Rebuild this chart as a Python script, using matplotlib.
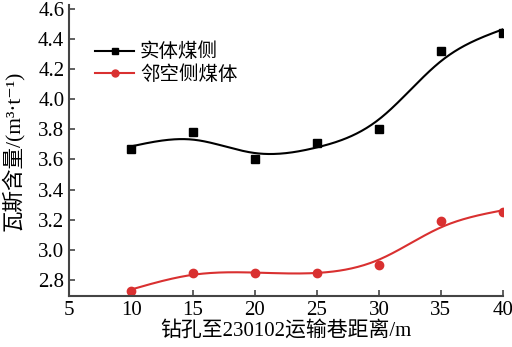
import numpy as np
import matplotlib
matplotlib.use("Agg")
import matplotlib.pyplot as plt

x = [10, 15, 20, 25, 30, 35, 40]
solid = [3.67, 3.78, 3.60, 3.71, 3.80, 4.32, 4.44]
adjacent = [2.73, 2.85, 2.85, 2.85, 2.90, 3.19, 3.25]
labels = ["实体煤侧", "邻空侧煤体"]
xticks = [5, 10, 15, 20, 25, 30, 35, 40]
yticks = [2.8, 3.0, 3.2, 3.4, 3.6, 3.8, 4.0, 4.2, 4.4, 4.6]

fam = ["Liberation Serif", "Noto Sans CJK SC", "DejaVu Sans"]
plt.rcParams["font.family"] = fam


def smooth(xs, ys, lam, n=301):
    xs = np.asarray(xs, float)
    ys = np.asarray(ys, float)
    g = np.linspace(xs.min(), xs.max(), n)
    h = g[1] - g[0]
    idx = np.round((xs - g[0]) / h).astype(int)
    W = np.zeros((n, n))
    b = np.zeros(n)
    for i, yv in zip(idx, ys):
        W[i, i] += 1.0
        b[i] += yv
    D = np.diff(np.eye(n), 2, axis=0) / h**2
    A = W + lam * h * D.T @ D
    return g, np.linalg.solve(A, b)


fig = plt.figure(figsize=(5.12, 3.47), dpi=100)
ax = fig.add_axes([0.135, 0.147, 0.847, 0.839])

gx, gs = smooth(x, solid, 8.0)
gx2, ga = smooth(x, adjacent, 8.0)
black = "#000000"
red = "#d93030"
ax.plot(gx, gs, color=black, lw=1.5)
ax.plot(gx2, ga, color=red, lw=1.5)
ax.plot(x, solid, "s", color=black, ms=6)
ax.plot(x, adjacent, "o", color=red, ms=6)

h1, = ax.plot([], [], "-s", color=black, lw=1.5, ms=5, label=labels[0])
h2, = ax.plot([], [], "-o", color=red, lw=1.5, ms=5, label=labels[1])
ax.legend(handles=[h1, h2], loc="upper left", bbox_to_anchor=(0.02, 0.93),
          frameon=False, fontsize=14, handlelength=2.0, handletextpad=0.3,
          labelspacing=0.2)

ax.set_xlim(5, 40)
ax.set_ylim(2.695, 4.625)
ax.set_xticks(xticks)
ax.set_yticks(yticks)
ax.set_yticklabels([f"{v:.1f}" for v in yticks])
ax.tick_params(direction="in", labelsize=15, width=1.2, length=4, color="#444444")
for s in ["top", "right"]:
    ax.spines[s].set_visible(False)
for s in ["left", "bottom"]:
    ax.spines[s].set_linewidth(1.5)
    ax.spines[s].set_color("#444444")

ax.set_xlabel("钻孔至230102运输巷距离/m", fontsize=15, labelpad=1)
ax.set_ylabel("瓦斯含量/(m³·t⁻¹)", fontsize=15.5)
ax.yaxis.set_label_coords(-0.105, 0.5)

fig.savefig("out.png", dpi=100)
